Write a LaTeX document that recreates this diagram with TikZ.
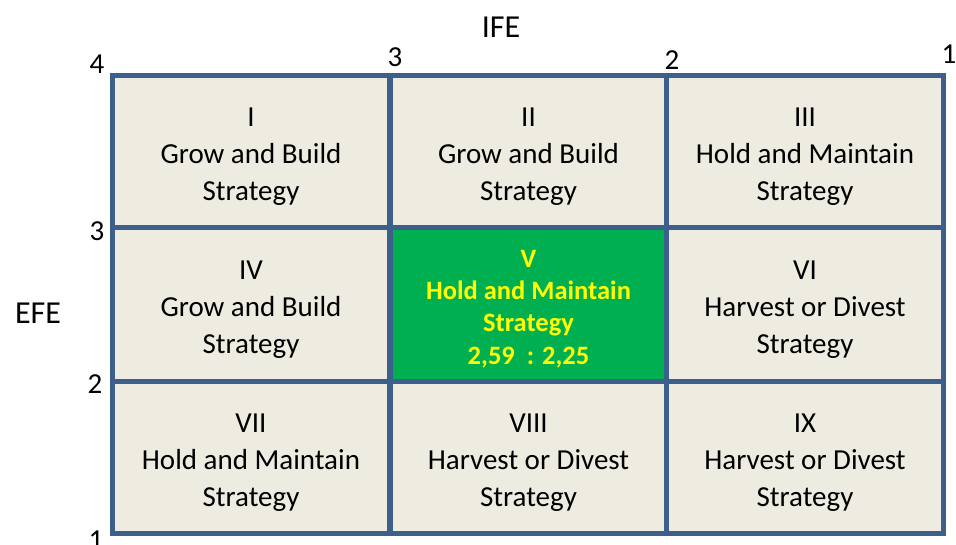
\documentclass[tikz,border=0pt]{standalone}
\usepackage{fontspec}
\setmainfont{Carlito}
\definecolor{gridblue}{HTML}{3C5F8C}
\definecolor{cellfill}{HTML}{EEECE1}
\definecolor{cellgreen}{HTML}{00B050}
\definecolor{txtyellow}{HTML}{FFFF00}
\begin{document}
\begin{tikzpicture}[x=1pt,y=-1pt,
  cellbox/.style={draw=gridblue,line width=5pt,fill=cellfill,minimum width=277pt,inner sep=0pt,outer sep=0pt},
  hotbox/.style={cellbox,fill=cellgreen},
  celltext/.style={align=center,font=\fontsize{29}{37}\selectfont,text=black},
  hottext/.style={align=center,font=\fontsize{26.5}{32.3}\selectfont\bfseries,text=txtyellow},
  ticklab/.style={inner sep=0pt,font=\fontsize{29}{29}\selectfont},
  axislab/.style={inner sep=0pt,font=\fontsize{32}{32}\selectfont}]
\useasboundingbox (0,0) rectangle (956,544);
% cells (x centers 251,528,805; rows 75-227, 227-381, 381-533)
\node[cellbox,minimum height=152pt] (c1) at (251,151) {};
\node[cellbox,minimum height=152pt] (c2) at (528.5,151) {};
\node[cellbox,minimum height=152pt] (c3) at (805,151) {};
\node[cellbox,minimum height=154pt] (c4) at (251,304) {};
\node[hotbox,minimum height=154pt] (c5) at (528.5,304) {};
\node[cellbox,minimum height=154pt] (c6) at (805,304) {};
\node[cellbox,minimum height=152pt] (c7) at (251,457) {};
\node[cellbox,minimum height=152pt] (c8) at (528.5,457) {};
\node[cellbox,minimum height=152pt] (c9) at (805,457) {};
% texts
\node[celltext] (t1) at ([yshift=-6pt]c1) {I\\Grow and Build\\Strategy};
\node[celltext] (t2) at ([yshift=-6pt]c2) {II\\Grow and Build\\Strategy};
\node[celltext] (t3) at ([yshift=-6pt]c3) {III\\Hold and Maintain\\Strategy};
\node[celltext] (t4) at ([yshift=-6pt]c4) {IV\\Grow and Build\\Strategy};
\node[hottext] (t5) at ([yshift=-5pt]c5) {V\\Hold and Maintain\\Strategy\\2,59\ \ : 2,25};
\node[celltext] (t6) at ([yshift=-6pt]c6) {VI\\Harvest or Divest\\Strategy};
\node[celltext] (t7) at ([yshift=-6pt]c7) {VII\\Hold and Maintain\\Strategy};
\node[celltext] (t8) at ([yshift=-6pt]c8) {VIII\\Harvest or Divest\\Strategy};
\node[celltext] (t9) at ([yshift=-6pt]c9) {IX\\Harvest or Divest\\Strategy};
% tick labels
\node[ticklab] (x4) at (97,64) {4};
\node[ticklab] (x3) at (395,57) {3};
\node[ticklab] (x2) at (672,60) {2};
\node[ticklab] (x1) at (949,54) {1};
\node[ticklab] (y3) at (97,231) {3};
\node[ticklab] (y2) at (95,384) {2};
\node[ticklab] (y1) at (96,540) {1};
% axis labels
\node[axislab] (ife) at (501,27) {IFE};
\node[axislab] (efe) at (38,313) {EFE};
\end{tikzpicture}
\end{document}
